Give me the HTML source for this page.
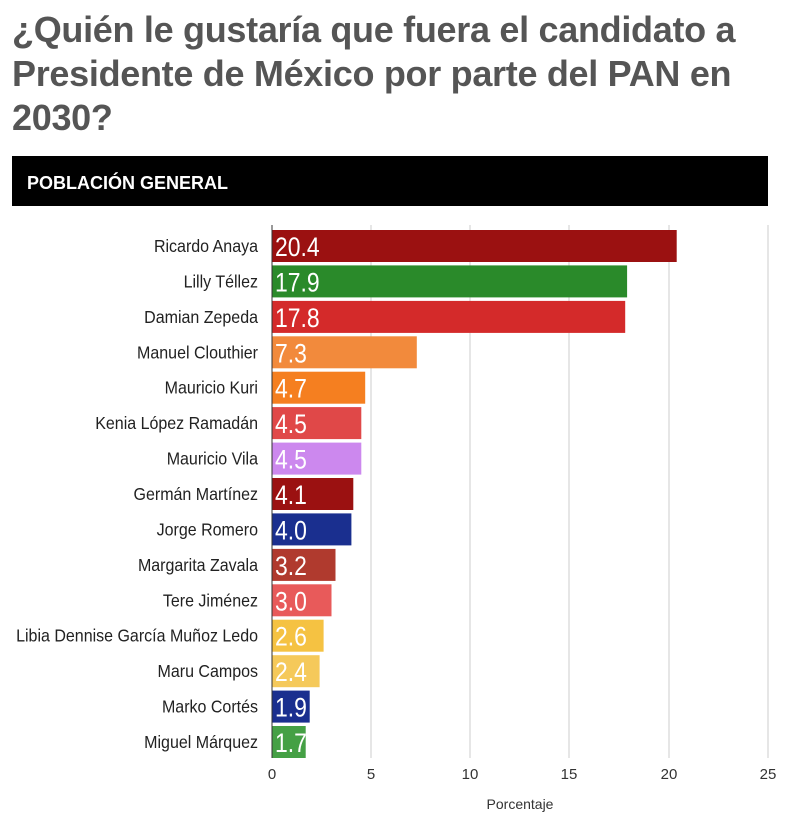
<!DOCTYPE html>
<html><head><meta charset="utf-8"><style>
body{margin:0;background:#fff;width:800px;height:819px;overflow:hidden}
.t{position:absolute;left:12px;top:8px;font:bold 36px/44px "Liberation Sans",sans-serif;color:#555;width:790px;letter-spacing:-0.3px;white-space:nowrap}
</style></head><body>
<div class="t">¿Quién le gustaría que fuera el candidato a<br>Presidente de México por parte del PAN en<br>2030?</div>
<svg width="800" height="819" style="position:absolute;left:0;top:0" font-family="Liberation Sans, sans-serif">
<rect x="12" y="156" width="756" height="50" fill="#000"/>
<text x="27" y="189" fill="#fff" font-size="18" font-weight="bold">POBLACIÓN GENERAL</text>
<g stroke="#ccc" stroke-width="1">
<line x1="371" y1="225" x2="371" y2="758"/><line x1="470" y1="225" x2="470" y2="758"/>
<line x1="569" y1="225" x2="569" y2="758"/><line x1="669" y1="225" x2="669" y2="758"/>
<line x1="768" y1="225" x2="768" y2="758"/></g>
<g id="bars"></g>
<line x1="272" y1="225" x2="272" y2="758" stroke="#333" stroke-width="1"/>
<g font-size="15" fill="#333" text-anchor="middle">
<text x="272" y="779">0</text><text x="371" y="779">5</text><text x="470" y="779">10</text><text x="569" y="779">15</text><text x="669" y="779">20</text><text x="768" y="779">25</text>
<text x="520" y="809" font-size="14">Porcentaje</text></g>
</svg>
<script>
var d=[["Ricardo Anaya",20.4,"#9b1111"],["Lilly Téllez",17.9,"#2a8a2a"],["Damian Zepeda",17.8,"#d42a2a"],["Manuel Clouthier",7.3,"#f28a3c"],["Mauricio Kuri",4.7,"#f57f20"],["Kenia López Ramadán",4.5,"#e04848"],["Mauricio Vila",4.5,"#cc88ee"],["Germán Martínez",4.1,"#9b1111"],["Jorge Romero",4.0,"#1a2f8f"],["Margarita Zavala",3.2,"#b03a2e"],["Tere Jiménez",3.0,"#e85a5a"],["Libia Dennise García Muñoz Ledo",2.6,"#f5c242"],["Maru Campos",2.4,"#f5c95a"],["Marko Cortés",1.9,"#1a2f8f"],["Miguel Márquez",1.7,"#45a045"]];
var s="";d.forEach(function(r,i){var y=230+i*35.43;var w=r[1]*19.84;
s+='<rect x="272" y="'+y.toFixed(1)+'" width="'+w.toFixed(1)+'" height="32" fill="'+r[2]+'"/>';
s+='<text transform="translate(258,'+(y+22).toFixed(1)+') scale(0.89,1)" text-anchor="end" font-size="18" fill="#222">'+r[0]+'</text>';
s+='<text transform="translate(275,'+(y+26).toFixed(1)+') scale(0.85,1)" font-size="27" fill="#fff">'+r[1].toFixed(1)+'</text>';});
document.getElementById("bars").innerHTML=s;
</script>
</body></html>
